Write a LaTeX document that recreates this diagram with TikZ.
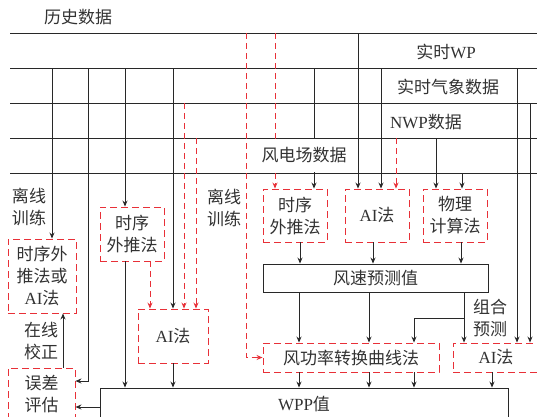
\documentclass[tikz,border=0pt]{standalone}
\usepackage{fontspec}
\setmainfont{Liberation Serif}
\newfontfamily\cjk{Noto Sans CJK SC}
\usetikzlibrary{arrows.meta}
\newcommand\lat[1]{{\rmfamily #1}}
\definecolor{lnc}{RGB}{40,40,40}
\definecolor{redc}{RGB}{232,48,56}
\definecolor{txc}{RGB}{50,50,50}

\begin{document}
\begin{tikzpicture}[x=1pt,y=-1pt,
  every node/.style={font=\cjk\fontsize{17}{22}\selectfont, text=txc},
  ln/.style={draw=lnc, line width=0.9pt},
  arr/.style={ln, -{Stealth[length=6pt,width=5pt]}},
  rarr/.style={draw=redc, line width=0.9pt, dash pattern=on 6pt off 4pt, -{Stealth[length=6pt,width=5pt]}},
  rbox/.style={draw=redc, line width=0.9pt, dash pattern=on 7pt off 4pt, align=center, inner sep=0pt},
  kbox/.style={ln, align=center, inner sep=0pt},
  lbl/.style={align=center, inner sep=0pt}]
\useasboundingbox (0,0) rectangle (537,416);
\clip (0,0) rectangle (537,416);
% data buses
\foreach \y in {33,68,103,138,173}
  \draw[ln] (10,\y) -- (537,\y);
% methods
\node[rbox, minimum width=68pt, minimum height=74pt] (tsai) at (42,276) {时序外\\推法或\\\lat{AI}法};
\node[rbox, minimum width=67pt, minimum height=52pt] (err) at (41.5,394) {误差\\评估};
\node[rbox, minimum width=64pt, minimum height=54pt] (tsl) at (132,234) {时序\\外推法};
\node[rbox, minimum width=70pt, minimum height=54pt] (ail) at (173,336) {\lat{AI}法};
\node[rbox, minimum width=64pt, minimum height=53pt] (tsr) at (295,215.5) {时序\\外推法};
\node[rbox, minimum width=64pt, minimum height=53pt] (aim) at (377,215.5) {\lat{AI}法};
\node[rbox, minimum width=64pt, minimum height=53pt] (phy) at (455,215.5) {物理\\计算法};
\node[kbox, minimum width=225pt, minimum height=28pt] (ws) at (375.5,278) {风速预测值};
\node[rbox, minimum width=176pt, minimum height=29pt] (fp) at (351,357.5) {风功率转换曲线法};
\node[rbox, minimum width=86pt, minimum height=29pt] (air) at (496,357.5) {\lat{AI}法};
\node[kbox, minimum width=408pt, minimum height=32pt] (wpp) at (304,404) {\lat{WPP}值};
% taps from the buses
\foreach \x/\y/\n in {52/68/tsai, 125/68/tsl, 173/68/ail, 314/68/tsr, 358/33/aim, 381/68/aim,
                      436/138/phy, 462/173/phy, 517/68/air, 530/103/air}
  \draw[arr] (\x,\y) -- (\x,0 |- \n.north);
\foreach \x/\y/\n in {184/103/ail, 196/138/ail, 275/33/tsr, 396/138/aim}
  \draw[rarr] (\x,\y) -- (\x,0 |- \n.north);
\draw[rarr] (150,0 |- tsl.south) -- (150,0 |- ail.north);
\draw[rarr] (246,33) |- (fp.west);
% left side
\draw[arr] (88,68) |- (err.east |- 0,381);
\draw[arr] (wpp.west |- 0,407) -- (err.east |- 0,407);
\draw[arr] (63,0 |- err.north) -- (63,0 |- tsai.south);
\draw[arr] (125,0 |- tsl.south) -- (125,0 |- wpp.north);
\draw[arr] (ail.south) -- (ail.south |- wpp.north);
% right side
\foreach \a/\b/\x in {tsr/ws/300, aim/ws/373, phy/ws/461, ws/fp/299, ws/fp/369, ws/air/464,
                      fp/wpp/299, fp/wpp/369, fp/wpp/414, air/wpp/492}
  \draw[arr] (\x,0 |- \a.south) -- (\x,0 |- \b.north);
\coordinate (split) at (464,318);
\draw[arr] (split) -| (414,0 |- fp.north);
% labels
\node[lbl] (hist) at (78,17) {历史数据};
\node[lbl] (rtwp) at (446,52) {实时\lat{WP}};
\node[lbl] (rtmet) at (448,87) {实时气象数据};
\node[lbl] (nwp) at (426,122) {\lat{NWP}数据};
\node[lbl, fill=white, inner xsep=2pt, minimum height=33pt] (farm) at (304,155.5) {风电场数据};
\node[lbl] (offa) at (29,207) {离线\\训练};
\node[lbl] (offb) at (224,208) {离线\\训练};
\node[lbl] (onl) at (41,341) {在线\\校正};
\node[lbl] (comb) at (490,318) {组合\\预测};
\end{tikzpicture}
\end{document}
